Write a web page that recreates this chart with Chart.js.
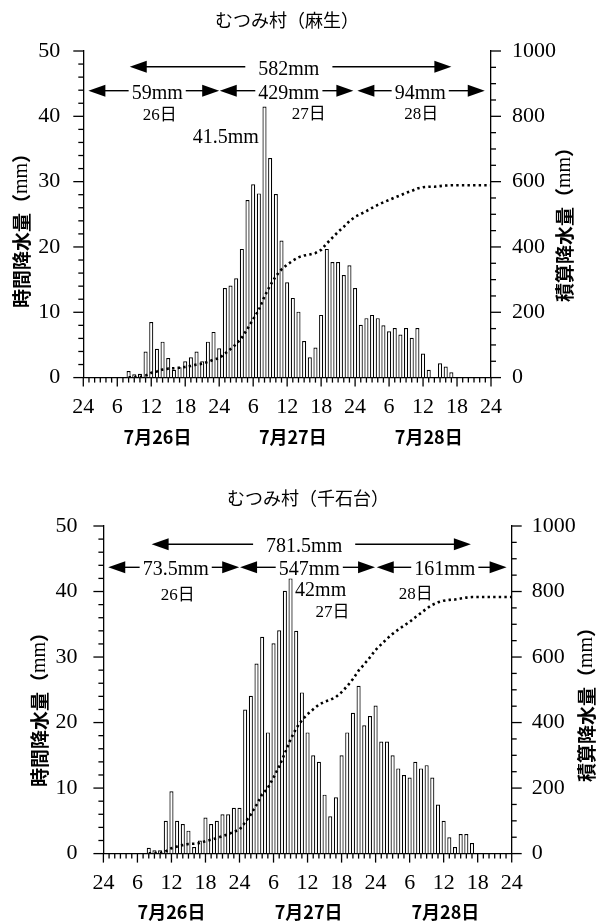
<!DOCTYPE html>
<html><head><meta charset="utf-8">
<script src="https://cdn.jsdelivr.net/npm/chart.js@4/dist/chart.umd.min.js"></script>
<style>
html,body{margin:0;padding:0;background:#fff;width:604px;height:921px;overflow:hidden}
canvas{position:absolute;left:0}
</style></head><body>
<canvas id="c1" width="604" height="460" style="top:0"></canvas>
<canvas id="c2" width="604" height="461" style="top:460px"></canvas>
<script>
// ---------- data ----------
const hours = [0,1,2,3,4,5,6,7,8,9,10,11,12,13,14,15,16,17,18,19,20,21,22,23,24,
  25,26,27,28,29,30,31,32,33,34,35,36,37,38,39,40,41,42,43,44,45,46,47,48,
  49,50,51,52,53,54,55,56,57,58,59,60,61,62,63,64,65,66,67,68,69,70,71,72];
const xTickLabels = ['24','6','12','18','24','6','12','18','24','6','12','18','24'];
const dateLabels = ['7月26日','7月27日','7月28日'];
const dayNames = ['26日','27日','28日'];

// むつみ村（麻生） hourly rainfall (mm)
const asoHourly = [0,0,0,0,0,0,0,0,
  1.0,0.5,0.6,4.0,8.5,4.4,5.5,3.0,1.2,1.6,2.5,3.1,4.0,2.5,5.5,7.0,4.5,
  13.7,14.1,15.2,19.7,27.2,29.6,28.2,41.5,33.6,28.1,21.0,14.6,12.2,10.1,5.6,3.1,4.6,9.6,19.7,17.7,17.7,15.7,17.2,13.7,
  8.1,9.1,9.6,9.1,8.0,7.1,7.6,6.6,7.6,6.1,7.6,3.7,1.2,0,2.2,1.7,0.8,
  0,0,0,0,0,0,0];
// むつみ村（麻生） cumulative rainfall (mm)
const asoCumulative = [null,null,null,null,null,null,null,null,
  1.0,1.5,2.1,6.1,14.6,19.0,24.5,27.5,28.7,30.3,32.8,35.9,39.9,42.4,47.9,54.9,59.4,
  73.1,87.2,102.4,122.1,149.3,178.9,207.1,248.6,282.2,310.3,331.3,345.9,358.1,368.2,373.8,376.9,381.5,391.1,410.8,428.5,446.2,461.9,479.1,492.8,
  500.9,510.0,519.6,528.7,536.7,543.8,551.4,558.0,565.6,571.7,579.3,583.0,584.2,584.2,586.4,588.1,588.9,
  588.9,588.9,588.9,588.9,588.9,588.9,588.9];
const asoTotalLabel = '582mm';
const asoDayTotals = ['59mm','429mm','94mm'];
const asoPeakLabel = '41.5mm';

// むつみ村（千石台） hourly rainfall (mm)
const sengokuHourly = [0,0,0,0,0,0,0,0,
  0.9,0.5,0.5,5.0,9.5,5.0,4.5,3.5,1.0,2.0,5.5,4.5,5.0,6.0,6.0,7.0,7.0,
  22.0,24.1,29.0,33.1,18.5,32.1,34.1,40.1,42.0,34.0,24.6,18.5,15.0,14.0,9.0,5.7,8.6,15.0,18.5,21.5,25.6,19.6,21.0,22.6,
  17.1,17.1,15.0,13.0,12.0,11.6,14.0,13.0,13.5,11.6,7.5,5.0,2.5,1.0,3.0,3.0,1.6,
  0,0,0,0,0,0,0];
// むつみ村（千石台） cumulative rainfall (mm)
const sengokuCumulative = [null,null,null,null,null,null,null,null,
  0.9,1.4,1.9,6.9,16.4,21.4,25.9,29.4,30.4,32.4,37.9,42.4,47.4,53.4,59.4,66.4,73.4,
  95.4,119.5,148.5,181.6,200.1,232.2,266.3,306.4,348.4,382.4,407.0,425.5,440.5,454.5,463.5,469.2,477.8,492.8,511.3,532.8,558.4,578.0,599.0,621.6,
  638.7,655.8,670.8,683.8,695.8,707.4,721.4,734.4,747.9,759.5,767.0,772.0,774.5,775.5,778.5,781.5,783.1,
  783.1,783.1,783.1,783.1,783.1,783.1,783.1];
const sengokuTotalLabel = '781.5mm';
const sengokuDayTotals = ['73.5mm','547mm','161mm'];
const sengokuPeakLabel = '42mm';

// ---------- drawing ----------
const serif = "'Liberation Serif','Times New Roman',serif";
const cjk = "'Noto Sans CJK JP','Noto Sans CJK SC',sans-serif";

function seg(ctx, x1, y1, x2, y2) { ctx.beginPath(); ctx.moveTo(x1, y1); ctx.lineTo(x2, y2); ctx.stroke(); }
function arrowHead(ctx, tip, y, dir) {
  ctx.beginPath(); ctx.moveTo(tip, y); ctx.lineTo(tip - dir*17, y-6); ctx.lineTo(tip - dir*17, y+6); ctx.closePath(); ctx.fill();
}
function drawRuns(ctx, runs, cx, cy) {
  let w = 0;
  runs.forEach(r => { ctx.font = r.f; r.w = ctx.measureText(r.t).width; w += r.w; });
  let x = cx - w/2; ctx.textAlign = 'left';
  runs.forEach(r => { ctx.font = r.f; ctx.fillText(r.t, x, cy); x += r.w; });
}

function makeChart(id, hourly, cumulative, L) {
  const canvas = document.getElementById(id);
  const W = canvas.width, H = canvas.height, A = L.area;
  const deco = {
    id: 'deco',
    afterDraw(chart) {
      const ctx = chart.ctx, xs = chart.scales.x, yl = chart.scales.y, yr = chart.scales.y2;
      const ca = chart.chartArea;
      ctx.save();
      ctx.strokeStyle = '#000'; ctx.fillStyle = '#000'; ctx.lineWidth = 1.3;
      // tick marks (major + minor)
      for (let v = 0; v <= 50; v += 2) {
        const y = yl.getPixelForValue(v); seg(ctx, ca.left - (v % 10 === 0 ? 10 : 5), y, ca.left, y);
      }
      for (let v = 0; v <= 1000; v += 50) {
        const y = yr.getPixelForValue(v); seg(ctx, ca.right, y, ca.right + (v % 200 === 0 ? 10 : 5), y);
      }
      hours.forEach((h, i) => {
        const x = xs.getPixelForValue(i); seg(ctx, x, ca.bottom, x, ca.bottom + (h % 6 === 0 ? 9 : 5));
      });
      // title
      ctx.textBaseline = 'middle'; ctx.textAlign = 'center';
      ctx.font = '18px ' + cjk; ctx.fillText(L.title, L.titlePos[0], L.titlePos[1]);
      // axis titles (rotated)
      const axisTitle = (kan, cx, cy) => {
        ctx.save(); ctx.translate(cx, cy); ctx.rotate(-Math.PI/2); ctx.textBaseline = 'middle';
        drawRuns(ctx, [{t: kan + '（', f: 'bold 19px ' + cjk}, {t: 'mm', f: '20px ' + serif}, {t: '）', f: 'bold 19px ' + cjk}], 0, 0);
        ctx.restore();
      };
      axisTitle('時間降水量', L.leftTitle[0], L.leftTitle[1]);
      axisTitle('積算降水量', L.rightTitle[0], L.rightTitle[1]);
      // date labels
      ctx.textBaseline = 'alphabetic'; ctx.textAlign = 'center';
      ctx.font = 'bold 18px ' + cjk;
      dateLabels.forEach((t, i) => ctx.fillText(t, xs.getPixelForValue(L.dateAt[i]), L.dateY));
      // arrow rows
      ctx.lineWidth = 1.4;
      const mmFont = '20px ' + serif;
      const row = (s, label, y, gap) => {
        const x1 = xs.getPixelForValue(s.from), x2 = xs.getPixelForValue(s.to), xc = xs.getPixelForValue(s.at);
        ctx.font = mmFont; const w = ctx.measureText(label).width;
        arrowHead(ctx, x1, y, -1); arrowHead(ctx, x2, y, 1);
        seg(ctx, x1 + 16, y, xc - w/2 - gap, y); seg(ctx, xc + w/2 + gap, y, x2 - 16, y);
        ctx.textAlign = 'center'; ctx.fillText(label, xc, y + 7.8);
      };
      row(L.total, L.totalLabel, L.row1Y, 13);
      L.days.forEach((s, i) => row(s, L.dayTotals[i], L.row2Y, 3));
      // day names
      ctx.textAlign = 'center';
      ctx.font = '17px ' + serif + ',' + cjk;
      dayNames.forEach((t, i) => ctx.fillText(t, xs.getPixelForValue(L.dayAt[i][0]), L.dayAt[i][1]));
      // peak label
      ctx.font = mmFont; ctx.textAlign = L.peak.align;
      ctx.fillText(L.peakLabel, xs.getPixelForValue(L.peak.at), L.peak.y);
      ctx.restore();
    }
  };
  const tickFont = {family: serif, size: 22};
  return new Chart(canvas, {
    data: {
      labels: hours,
      datasets: [
        {type: 'line', data: cumulative, yAxisID: 'y2', borderColor: '#000', borderWidth: 2.6,
         borderDash: [2.4, 3.2], pointRadius: 0, tension: 0, fill: false, order: 0},
        {type: 'bar', data: hourly, yAxisID: 'y', backgroundColor: '#fff', borderColor: '#000',
         borderWidth: 1.2, barPercentage: 0.72, categoryPercentage: 1, order: 1}
      ]
    },
    options: {
      responsive: false, animation: false,
      layout: {padding: {top: A.top, left: 0, right: 0, bottom: 0}},
      plugins: {legend: {display: false}, tooltip: {enabled: false}},
      scales: {
        x: {type: 'category', offset: false, grid: {display: false},
            border: {display: true, color: '#000', width: 1.3},
            ticks: {autoSkip: false, maxRotation: 0, minRotation: 0, padding: L.xPad, color: '#000', font: tickFont,
                    callback: (v, i) => (hours[i] % 6 === 0 ? xTickLabels[hours[i] / 6] : '')},
            afterFit: s => { s.height = H - A.bottom; }},
        y: {position: 'left', min: 0, max: 50, grid: {display: false},
            border: {display: true, color: '#000', width: 1.3},
            ticks: {stepSize: 10, padding: L.yPad, color: '#000', font: tickFont, callback: v => String(v)},
            afterFit: s => { s.width = A.left; }},
        y2: {position: 'right', min: 0, max: 1000, grid: {display: false},
            border: {display: true, color: '#000', width: 1.3},
            ticks: {stepSize: 200, padding: L.y2Pad, color: '#000', font: tickFont, callback: v => String(v)},
            afterFit: s => { s.width = W - A.right; }}
      }
    },
    plugins: [deco]
  });
}

makeChart('c1', asoHourly, asoCumulative, {
  area: {left: 83.3, right: 491, top: 51, bottom: 377.6},
  title: 'むつみ村（麻生）', titlePos: [287, 20],
  leftTitle: [22, 226], rightTitle: [565, 220],
  xPad: 8, yPad: 15, y2Pad: 13,
  dateAt: [13.1, 37, 61], dateY: 443.5,
  total: {from: 8.2, to: 65, at: 36.3}, totalLabel: asoTotalLabel, row1Y: 66.7,
  days: [{from: 0.9, to: 24, at: 13.05}, {from: 24.1, to: 47.7, at: 36.3}, {from: 48.4, to: 70.9, at: 59.5}],
  dayTotals: asoDayTotals, row2Y: 90.7,
  dayAt: [[13.5, 120], [39.8, 118.5], [59.7, 118.5]],
  peakLabel: asoPeakLabel, peak: {at: 31.0, y: 143.3, align: 'right'}
});
makeChart('c2', sengokuHourly, sengokuCumulative, {
  area: {left: 103.4, right: 511.7, top: 66, bottom: 393.6},
  title: 'むつみ村（千石台）', titlePos: [308, 38],
  leftTitle: [40, 245], rightTitle: [587, 240],
  xPad: 8, yPad: 18, y2Pad: 12,
  dateAt: [12, 36.2, 60.3], dateY: 459,
  total: {from: 8.5, to: 64.8, at: 35.4}, totalLabel: sengokuTotalLabel, row1Y: 84.3,
  days: [{from: 0.85, to: 23.95, at: 12.75}, {from: 24.1, to: 47.9, at: 36.3}, {from: 48.2, to: 71.1, at: 60.2}],
  dayTotals: sengokuDayTotals, row2Y: 107.3,
  dayAt: [[13.1, 140], [40.4, 156.7], [55.1, 139]],
  peakLabel: sengokuPeakLabel, peak: {at: 33.8, y: 136, align: 'left'}
});
</script>
</body></html>
